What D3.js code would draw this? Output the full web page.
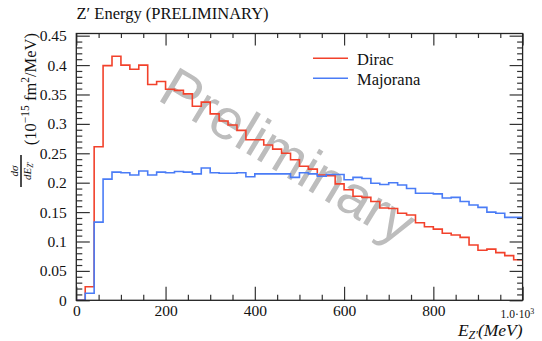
<!DOCTYPE html>
<html>
<head>
<meta charset="utf-8">
<script src="https://cdn.jsdelivr.net/npm/d3@7"></script>
<style>
  html, body { margin: 0; padding: 0; background: #ffffff; }
  svg { display: block; }
</style>
</head>
<body>
<svg id="chart" width="542" height="341"></svg>
<script>
// Lower edges of the 20 MeV energy bins (MeV)
const binLow = [0, 20, 40, 60, 80, 100, 120, 140, 160, 180,
                200, 220, 240, 260, 280, 300, 320, 340, 360, 380,
                400, 420, 440, 460, 480, 500, 520, 540, 560, 580,
                600, 620, 640, 660, 680, 700, 720, 740, 760, 780,
                800, 820, 840, 860, 880, 900, 920, 940, 960, 980];
const binHigh = 1000;

// dσ/dE_Z' in units of 1e-15 fm^2/MeV
const dirac = [0.000, 0.023, 0.261, 0.399, 0.415, 0.400, 0.393, 0.400, 0.367, 0.372,
               0.359, 0.357, 0.351, 0.330, 0.337, 0.317, 0.305, 0.298, 0.289, 0.273,
               0.273, 0.264, 0.257, 0.250, 0.239, 0.228, 0.223, 0.213, 0.212, 0.198,
               0.188, 0.177, 0.175, 0.168, 0.157, 0.156, 0.148, 0.145, 0.132, 0.125,
               0.121, 0.114, 0.111, 0.107, 0.094, 0.085, 0.087, 0.081, 0.076, 0.069];

const majorana = [0.000, 0.012, 0.133, 0.206, 0.218, 0.217, 0.213, 0.220, 0.213, 0.218,
                  0.217, 0.219, 0.218, 0.215, 0.225, 0.217, 0.216, 0.216, 0.217, 0.210,
                  0.215, 0.215, 0.215, 0.215, 0.209, 0.217, 0.215, 0.211, 0.214, 0.214,
                  0.205, 0.209, 0.207, 0.199, 0.197, 0.200, 0.196, 0.190, 0.182, 0.182,
                  0.181, 0.174, 0.175, 0.168, 0.162, 0.158, 0.150, 0.148, 0.141, 0.141];

const seriesNames = ["Dirac", "Majorana"];
const seriesColors = ["#f2412b", "#4a7cf6"];

// Axis ticks and labels
const xMajor = [0, 200, 400, 600, 800, 1000];
const xMajorLabels = ["0", "200", "400", "600", "800", ""];
const yMajor = [0, 0.05, 0.1, 0.15, 0.2, 0.25, 0.3, 0.35, 0.4, 0.45];
const yMajorLabels = ["0", "0.05", "0.1", "0.15", "0.2", "0.25", "0.3", "0.35", "0.4", "0.45"];

const SERIF = "'Liberation Serif', 'DejaVu Serif', serif";
const svg = d3.select("#chart");

const L = 76.3, R = 522.6, T = 33.5, B = 300.3;
const x = d3.scaleLinear().domain([0, 1000]).range([L, R]);
const y = d3.scaleLinear().domain([0, 0.4537]).range([B, T]);

const xMinor = d3.range(0, 1001, 50).filter(v => v % 200 !== 0);
const yMinor = d3.range(0, 46).map(v => v / 100).filter(v => Math.round(v * 100) % 5 !== 0);

function serifText(sel) {
  return sel.style("font-family", SERIF).attr("fill", "#111");
}

// Watermark sits beneath the data
svg.append("text")
  .attr("transform", "translate(156,99) rotate(31)")
  .style("font-family", "'Liberation Sans', Arial, sans-serif")
  .attr("font-size", 57)
  .attr("fill", "#bdbdbd")
  .text("Preliminary");

// Histograms
const line = d3.line()
  .x(d => x(d[0]))
  .y(d => y(d[1]))
  .curve(d3.curveStepAfter);

[dirac, majorana].forEach((vals, k) => {
  const pts = binLow.map((b, i) => [b, vals[i]]);
  pts.push([binHigh, vals[vals.length - 1]]);
  svg.append("path")
    .attr("d", line(pts))
    .attr("fill", "none")
    .attr("stroke", seriesColors[k])
    .attr("stroke-width", 1.6);
});

// Axes: major and minor ticks on all four sides, pointing inward
function styleAxis(g) {
  g.select(".domain").remove();
  g.selectAll(".tick line").attr("stroke", "#333").attr("stroke-width", 1.2);
  g.selectAll("text").call(serifText).attr("font-size", 15.5);
}

svg.append("g").attr("transform", `translate(0,${B})`)
  .call(d3.axisBottom(x).tickValues(xMajor).tickSizeInner(-13.5).tickSizeOuter(0).tickPadding(5)
        .tickFormat((d, i) => xMajorLabels[i]))
  .call(styleAxis);
svg.append("g").attr("transform", `translate(0,${B})`)
  .call(d3.axisBottom(x).tickValues(xMinor).tickSizeInner(-5.5).tickSizeOuter(0).tickFormat(""))
  .call(styleAxis);
svg.append("g").attr("transform", `translate(0,${T})`)
  .call(d3.axisTop(x).tickValues(xMajor).tickSizeInner(-12).tickSizeOuter(0).tickFormat(""))
  .call(styleAxis);
svg.append("g").attr("transform", `translate(0,${T})`)
  .call(d3.axisTop(x).tickValues(xMinor).tickSizeInner(-4.5).tickSizeOuter(0).tickFormat(""))
  .call(styleAxis);

svg.append("g").attr("transform", `translate(${L},0)`)
  .call(d3.axisLeft(y).tickValues(yMajor).tickSizeInner(-13.5).tickSizeOuter(0).tickPadding(9.5)
        .tickFormat((d, i) => yMajorLabels[i]))
  .call(styleAxis);
svg.append("g").attr("transform", `translate(${L},0)`)
  .call(d3.axisLeft(y).tickValues(yMinor).tickSizeInner(-6).tickSizeOuter(0).tickFormat(""))
  .call(styleAxis);
svg.append("g").attr("transform", `translate(${R},0)`)
  .call(d3.axisRight(y).tickValues(yMajor).tickSizeInner(-13).tickSizeOuter(0).tickFormat(""))
  .call(styleAxis);
svg.append("g").attr("transform", `translate(${R},0)`)
  .call(d3.axisRight(y).tickValues(yMinor).tickSizeInner(-5.5).tickSizeOuter(0).tickFormat(""))
  .call(styleAxis);

// Frame
svg.append("rect")
  .attr("x", L).attr("y", T)
  .attr("width", R - L).attr("height", B - T)
  .attr("fill", "none").attr("stroke", "#222").attr("stroke-width", 1.3);

// Exponent label at the end of the x axis
const expo = svg.append("text").call(serifText)
  .attr("x", x(1000) - 22).attr("y", 317.5)
  .attr("font-size", 11.5);
expo.append("tspan").text("1.0·10");
expo.append("tspan").attr("font-size", 8).attr("dy", -4).text("3");

// Title
svg.append("text").call(serifText)
  .attr("x", 76.5).attr("y", 19)
  .attr("font-size", 16.5)
  .text("Z′ Energy (PRELIMINARY)");

// X axis title
const xt = svg.append("text").call(serifText)
  .attr("x", R).attr("y", 335.5)
  .attr("text-anchor", "end")
  .attr("font-size", 17.5).attr("font-style", "italic");
xt.append("tspan").text("E");
xt.append("tspan").attr("font-size", 12).attr("dy", 3).text("Z′");
xt.append("tspan").attr("dy", -3).text("(MeV)");

// Y axis title (rotated): fraction dσ/dE_Z' followed by units
const yt = svg.append("g").attr("transform", "rotate(-90)");
const units = yt.append("text").call(serifText)
  .attr("x", -33).attr("y", 35.5)
  .attr("text-anchor", "end")
  .attr("font-size", 16.5);
units.append("tspan").text("(10");
units.append("tspan").attr("font-size", 11.5).attr("dy", -6.5).text("−15");
units.append("tspan").attr("dy", 6.5).text(" fm");
units.append("tspan").attr("font-size", 11.5).attr("dy", -6.5).text("2");
units.append("tspan").attr("dy", 6.5).text("/MeV)");

const fracC = -171;
yt.append("line")
  .attr("x1", -155).attr("x2", -187)
  .attr("y1", 21).attr("y2", 21)
  .attr("stroke", "#111").attr("stroke-width", 1.5);
yt.append("text").call(serifText)
  .attr("x", fracC).attr("y", 18)
  .attr("text-anchor", "middle")
  .attr("font-size", 11).attr("font-style", "italic")
  .text("dσ");
const den = yt.append("text").call(serifText)
  .attr("x", fracC).attr("y", 31)
  .attr("text-anchor", "middle")
  .attr("font-size", 11).attr("font-style", "italic");
den.append("tspan").text("dE");
den.append("tspan").attr("font-size", 7.5).attr("dy", 2).text("Z′");

// Legend
const legY = [58.3, 78.3];
seriesNames.forEach((name, k) => {
  svg.append("line")
    .attr("x1", 313).attr("x2", 348)
    .attr("y1", legY[k]).attr("y2", legY[k])
    .attr("stroke", seriesColors[k]).attr("stroke-width", 1.6);
  svg.append("text").call(serifText)
    .attr("x", 357).attr("y", legY[k] + 6.3)
    .attr("font-size", 16.5)
    .text(name);
});
</script>
</body>
</html>
